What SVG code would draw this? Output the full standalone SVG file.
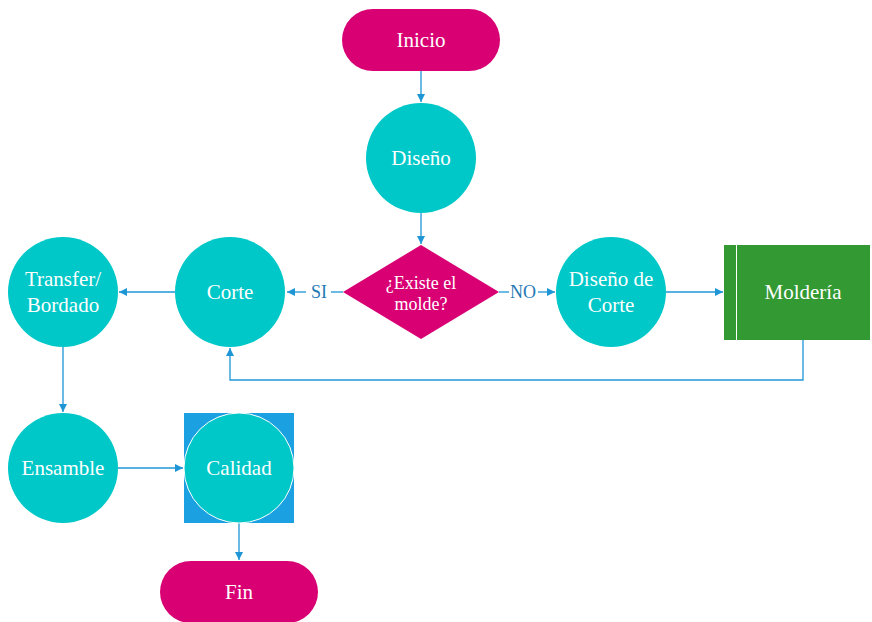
<svg xmlns="http://www.w3.org/2000/svg" width="872" height="622" viewBox="0 0 872 622">
<style>
.term{fill:#d80073}
.circ{fill:#00c8c8}
.lbl{font-family:"Liberation Serif","Times New Roman",serif;font-size:21px;fill:#ffffff;text-anchor:middle}
.sm{font-size:18px}
.con{fill:none;stroke:#1e96d6;stroke-width:1.3}
.clbl{font-family:"Liberation Serif","Times New Roman",serif;font-size:18px;fill:#1e78b4;text-anchor:middle}
</style>
<defs>
<marker id="ah" viewBox="0 0 10 10" refX="10" refY="5" markerWidth="8" markerHeight="8" markerUnits="userSpaceOnUse" orient="auto">
<path d="M0,0 L10,5 L0,10 Z" fill="#1e96d6"/>
</marker>
</defs>
<g id="connectors">
<line class="con" x1="421" y1="71" x2="421" y2="102" marker-end="url(#ah)"/>
<line class="con" x1="421" y1="213" x2="421" y2="244" marker-end="url(#ah)"/>
<line class="con" x1="343" y1="292" x2="331" y2="292"/>
<line class="con" x1="306" y1="292" x2="287" y2="292" marker-end="url(#ah)"/>
<text class="clbl" x="319" y="298">SI</text>
<line class="con" x1="499" y1="292" x2="509" y2="292"/>
<line class="con" x1="538" y1="292" x2="555" y2="292" marker-end="url(#ah)"/>
<text class="clbl" x="523" y="298">NO</text>
<line class="con" x1="666" y1="292" x2="723" y2="292" marker-end="url(#ah)"/>
<line class="con" x1="175" y1="292" x2="119" y2="292" marker-end="url(#ah)"/>
<polyline class="con" points="803,340 803,380 230,380 230,348" marker-end="url(#ah)"/>
<line class="con" x1="63" y1="347" x2="63" y2="412" marker-end="url(#ah)"/>
<line class="con" x1="118" y1="468" x2="183" y2="468" marker-end="url(#ah)"/>
<line class="con" x1="239" y1="523" x2="239" y2="560" marker-end="url(#ah)"/>
</g>
<g id="inicio">
<rect class="term" x="342" y="9" width="158" height="62" rx="31"/>
<text class="lbl" x="421" y="47">Inicio</text>
</g>
<g id="diseno">
<circle class="circ" cx="421" cy="158" r="55"/>
<text class="lbl" x="421" y="165">Diseño</text>
</g>
<g id="existe">
<polygon class="term" points="421,245 499,292 421,339 343,292"/>
<text class="lbl sm" x="421" y="289">¿Existe el</text>
<text class="lbl sm" x="421" y="310">molde?</text>
</g>
<g id="corte">
<circle class="circ" cx="230" cy="292" r="55"/>
<text class="lbl" x="230" y="299">Corte</text>
</g>
<g id="transfer">
<circle class="circ" cx="63" cy="292" r="55"/>
<text class="lbl" x="63" y="286">Transfer/</text>
<text class="lbl" x="63" y="312">Bordado</text>
</g>
<g id="disenocorte">
<circle class="circ" cx="611" cy="292" r="55"/>
<text class="lbl" x="611" y="286">Diseño de</text>
<text class="lbl" x="611" y="312">Corte</text>
</g>
<g id="molderia">
<rect x="724" y="245" width="146" height="95" fill="#339933"/>
<line x1="736.5" y1="245" x2="736.5" y2="340" stroke="#ffffff" stroke-width="1"/>
<text class="lbl" x="803" y="299">Moldería</text>
</g>
<g id="ensamble">
<circle class="circ" cx="63" cy="468" r="55"/>
<text class="lbl" x="63" y="475">Ensamble</text>
</g>
<g id="calidad">
<rect x="184" y="413" width="110" height="110" fill="#1ba1e2"/>
<circle class="circ" cx="239" cy="468" r="55" stroke="#ffffff" stroke-width="1"/>
<text class="lbl" x="239" y="475">Calidad</text>
</g>
<g id="fin">
<rect class="term" x="160" y="561" width="158" height="62" rx="31"/>
<text class="lbl" x="239" y="599">Fin</text>
</g>
</svg>
